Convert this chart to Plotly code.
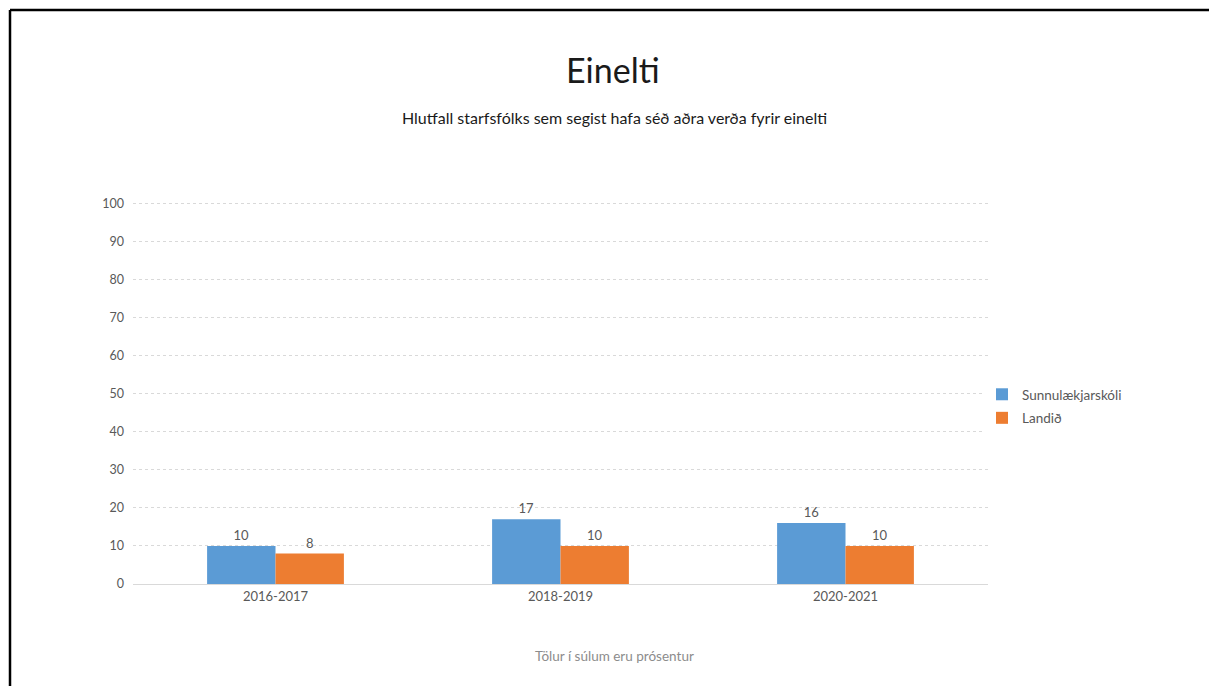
from plotly import graph_objects as go

years = ["2016-2017", "2018-2019", "2020-2021"]
school = [10, 17, 16]
national = [8, 10, 10]
school_name = "Sunnulækjarskóli"
national_name = "Landið"

# page body has an 8px margin, so the figure is drawn 8px in from the corner
OFF = 8
W, H = 1217 - OFF, 686 - OFF
L, R, T, B = 133 - OFF, 229, 202 - OFF, 102


def px_x(x):
    return (x - OFF - L) / (W - L - R)


def px_y(y):
    return (H - B - (y - OFF)) / (H - T - B)


grey = "#595959"
fig = go.Figure(data=[
    go.Bar(name=school_name, x=years, y=school, marker_color="#5b9bd5",
           marker_line_width=0, text=school, textposition="outside",
           textfont=dict(color=grey, size=13), cliponaxis=False,
           legendgroup="a"),
    go.Bar(name=national_name, x=years, y=national, marker_color="#ed7d31",
           marker_line_width=0, text=national, textposition="outside",
           textfont=dict(color=grey, size=13), cliponaxis=False,
           legendgroup="b"),
])

fig.update_layout(
    width=W, height=H,
    margin=dict(l=L, r=R, t=T, b=B),
    paper_bgcolor="white", plot_bgcolor="white",
    font=dict(family="Lato, Carlito, sans-serif", color=grey, size=12),
    barmode="group", bargap=0.52, bargroupgap=0,
    showlegend=True,
    legend=dict(x=px_x(982), y=px_y(379), xanchor="left", yanchor="top",
                font=dict(size=13.5, color=grey), tracegroupgap=3,
                itemwidth=30),
    xaxis=dict(showline=True, linecolor="#d9d9d9", ticks="",
               tickfont=dict(size=13, color=grey)),
    yaxis=dict(range=[0, 100.3], tickvals=list(range(0, 101, 10)),
               showgrid=True, gridcolor="#d9d9d9",
               griddash="dot", zeroline=False, ticks="", ticklabelstandoff=8,
               tickfont=dict(size=12.5, color=grey)),
    annotations=[
        dict(text="Einelti", x=px_x(613), y=px_y(69), xref="paper", yref="paper",
             xanchor="center", yanchor="middle",
             showarrow=False, font=dict(size=34, color="#1a1a1a")),
        dict(text="Hlutfall starfsfólks sem segist hafa séð aðra verða fyrir einelti",
             x=px_x(614), y=px_y(117), xref="paper", yref="paper",
             xanchor="center", yanchor="middle",
             showarrow=False, font=dict(size=16, color="#1a1a1a")),
        dict(text="Tölur í súlum eru prósentur", x=px_x(614), y=px_y(656),
             xref="paper", yref="paper", showarrow=False,
             xanchor="center", yanchor="middle",
             font=dict(size=13.5, color="#8c8c8c")),
    ],
    shapes=[
        dict(type="line", xref="paper", yref="paper", x0=px_x(10), x1=px_x(10),
             y0=px_y(10), y1=px_y(686), line=dict(color="black", width=2.5)),
        dict(type="line", xref="paper", yref="paper", x0=px_x(10), x1=px_x(1214),
             y0=px_y(10), y1=px_y(10), line=dict(color="black", width=2.5)),
        dict(type="line", xref="paper", yref="paper", x0=px_x(1214), x1=px_x(1214),
             y0=px_y(10), y1=px_y(686), line=dict(color="black", width=2.5)),
    ],
)

fig.write_html("out.html")
